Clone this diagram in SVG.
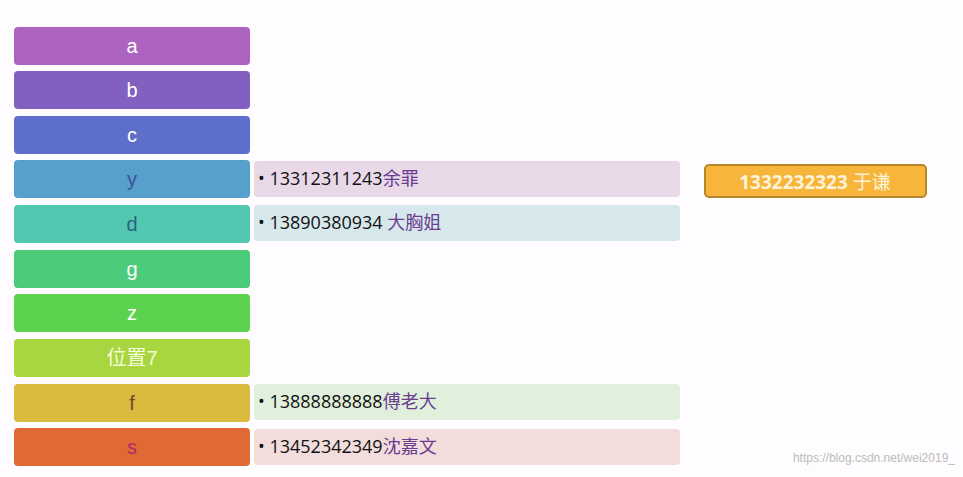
<svg xmlns="http://www.w3.org/2000/svg" width="963" height="477" viewBox="0 0 963 477">
<style>
.k{font-family:"Liberation Sans","Noto Sans CJK SC",sans-serif;font-size:20px;text-anchor:middle}
.v{font-family:"Open Sans","Noto Sans CJK SC",sans-serif;font-size:18px;fill:#111}
.n{fill:#6a3d8f}
.w{fill:#fff}
</style>
<rect width="963" height="477" fill="#fefcfe"/>
<g id="a"><rect x="14" y="27" width="236" height="38" rx="4" fill="#ad63c0"/><text class="k w" x="132" y="53">a</text></g>
<g id="b"><rect x="14" y="71" width="236" height="38" rx="4" fill="#8160c0"/><text class="k w" x="132" y="97">b</text></g>
<g id="c"><rect x="14" y="116" width="236" height="38" rx="4" fill="#5d6fcb"/><text class="k w" x="132" y="142">c</text></g>
<g id="y"><rect x="14" y="160" width="236" height="38" rx="4" fill="#56a0cc"/><text class="k" fill="#3e4f9a" x="132" y="186">y</text></g>
<g id="d"><rect x="14" y="205" width="236" height="38" rx="4" fill="#52c8b0"/><text class="k" fill="#2f5f80" x="132" y="231">d</text></g>
<g id="g"><rect x="14" y="250" width="236" height="38" rx="4" fill="#4ccc7a"/><text class="k w" x="132" y="276">g</text></g>
<g id="z"><rect x="14" y="294" width="236" height="38" rx="4" fill="#5dd24e"/><text class="k w" x="132" y="320">z</text></g>
<g id="p7"><rect x="14" y="339" width="236" height="38" rx="4" fill="#a8d641"/><text class="k" fill="#f4fbd8" x="132" y="365">位置7</text></g>
<g id="f"><rect x="14" y="384" width="236" height="38" rx="4" fill="#dbbb3e"/><text class="k" fill="#6a4a2a" x="132" y="410">f</text></g>
<g id="s"><rect x="14" y="428" width="236" height="38" rx="4" fill="#e06a35"/><text class="k" fill="#b02a6a" x="132" y="454">s</text></g>
<g id="vy"><rect x="254" y="161" width="426" height="36" rx="4" fill="#e8d8e8"/><text class="v" x="258" y="185">• 13312311243<tspan class="n">余罪</tspan></text></g>
<g id="vd"><rect x="254" y="205" width="426" height="36" rx="4" fill="#d6e8ec"/><text class="v" x="258" y="229">• 13890380934 <tspan class="n">大胸姐</tspan></text></g>
<g id="vf"><rect x="254" y="384" width="426" height="36" rx="4" fill="#e0f0dc"/><text class="v" x="258" y="408">• 13888888888<tspan class="n">傅老大</tspan></text></g>
<g id="vs"><rect x="254" y="429" width="426" height="36" rx="4" fill="#f2dcdc"/><text class="v" x="258" y="453">• 13452342349<tspan class="n">沈嘉文</tspan></text></g>
<g id="q"><rect x="705" y="165" width="221" height="32" rx="4" fill="#f7b53c" stroke="#b8862a" stroke-width="2"/><text x="815" y="189" font-family="Open Sans,Noto Sans CJK SC,sans-serif" font-size="19" font-weight="bold" fill="#fdf4d8" text-anchor="middle">1332232323 <tspan font-weight="normal">于谦</tspan></text></g>
<g id="connectors"/>
<text x="955" y="462" font-family="Liberation Sans,sans-serif" font-size="12" fill="#bbb" text-anchor="end">https://blog.csdn.net/wei2019_</text>
</svg>
